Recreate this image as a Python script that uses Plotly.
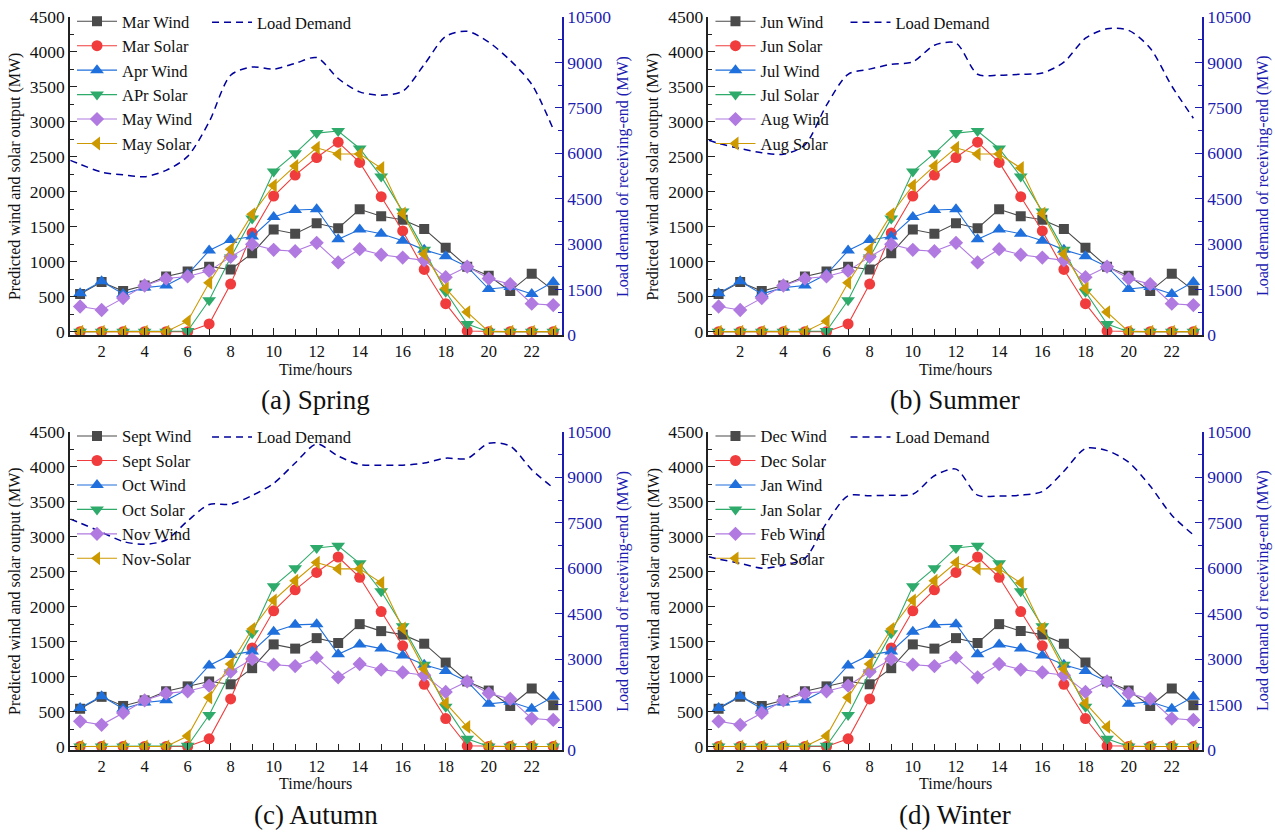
import plotly.graph_objects as go

# ---------------- data ----------------
hours = list(range(1, 24))

wind1 = [540, 710, 580, 660, 790, 860, 930, 890, 1120, 1460, 1400, 1550, 1480,
         1750, 1650, 1600, 1470, 1200, 930, 800, 580, 830, 590]
solar1 = [0, 0, 0, 0, 0, 0, 110, 680, 1410, 1940, 2240, 2490, 2710,
          2420, 1930, 1440, 890, 400, 10, 0, 0, 0, 0]
wind2 = [550, 720, 540, 630, 660, 820, 1160, 1310, 1360, 1640, 1740, 1750, 1320,
         1460, 1400, 1300, 1170, 1080, 930, 610, 640, 540, 710]
solar2 = [0, 0, 0, 0, 0, 10, 450, 1060, 1620, 2290, 2550, 2840, 2870,
          2620, 2220, 1720, 1170, 570, 110, 0, 0, 0, 0]
wind3 = [360, 310, 480, 660, 760, 790, 870, 1070, 1250, 1170, 1150, 1270, 990,
         1180, 1100, 1060, 1020, 780, 930, 760, 680, 400, 380]
solar3 = [0, 0, 0, 0, 0, 150, 700, 1180, 1680, 2090, 2370, 2630, 2540,
          2540, 2340, 1690, 1110, 620, 280, 0, 0, 0, 0]

load_hours = [0.55] + list(range(1, 24))
load_spring = [5770, 5640, 5380, 5290, 5230, 5440, 5900, 7040, 8580, 8850, 8780, 8970,
               9160, 8470, 8030, 7920, 8050, 8930, 9860, 10030, 9670, 9070, 8280, 6800]
load_summer = [6430, 6330, 6160, 6020, 5970, 6280, 7590, 8610, 8780, 8940, 9020, 9570,
               9640, 8610, 8580, 8610, 8650, 9010, 9800, 10110, 10060, 9470, 8220, 7160]
load_autumn = [7620, 7490, 7190, 6880, 6790, 6930, 7560, 8100, 8110, 8400, 8800, 9470,
               10100, 9700, 9420, 9400, 9400, 9470, 9630, 9620, 10120, 10030, 9250, 8650]
load_winter = [6380, 6300, 6160, 6000, 6100, 6330, 7490, 8390, 8390, 8410, 8440, 9050,
               9270, 8410, 8380, 8410, 8530, 9200, 9950, 9880, 9500, 8710, 7750, 7100]

panel_names = [
    ["Mar Wind", "Mar Solar", "Apr Wind", "APr Solar", "May Wind", "May Solar"],
    ["Jun Wind", "Jun Solar", "Jul Wind", "Jul Solar", "Aug Wind", "Aug Solar"],
    ["Sept Wind", "Sept Solar", "Oct Wind", "Oct Solar", "Nov Wind", "Nov-Solar"],
    ["Dec Wind", "Dec Solar", "Jan Wind", "Jan Solar", "Feb Wind", "Feb Solar"],
]
panel_titles = ["(a) Spring", "(b) Summer", "(c) Autumn", "(d) Winter"]
panel_loads = [load_spring, load_summer, load_autumn, load_winter]
series_values = [wind1, solar1, wind2, solar2, wind3, solar3]

# ---------------- styles ----------------
colors = ["#4a4a4a", "#f03c3c", "#1f6fdc", "#2eaa6a", "#b07ae0", "#cc9900"]
symbols = ["square", "circle", "triangle-up", "triangle-down", "diamond", "triangle-left"]
msizes = [10, 11, 12, 12, 11, 12]
LOAD_COLOR = "#00009c"
RAXIS_COLOR = "#1c1cb0"
FONT = "Liberation Serif"

W, H = 1275, 832
ML, MR, MT, MB = 70, 73.3, 16.7, 82
PW, PH = W - ML - MR, H - MT - MB


def fx(px):
    return (px - ML) / PW


def fy(py):
    return 1 - (py - MT) / PH


# plot-area pixel boxes: (left, right, top, bottom)
boxes = [(70, 561.7, 16.7, 335), (708.3, 1201.7, 16.7, 335),
         (70, 561.7, 431.7, 750), (708.3, 1201.7, 431.7, 750)]

fig = go.Figure()
layout = dict(
    width=W, height=H, margin=dict(l=ML, r=MR, t=MT, b=MB, autoexpand=False),
    paper_bgcolor="white", plot_bgcolor="rgba(0,0,0,0)",
    font=dict(family=FONT, size=16, color="#111"),
    showlegend=True, annotations=[],
)

for i in range(4):
    L, R, T, B = boxes[i]
    xd = [fx(L), fx(R)]
    yd = [fy(B), fy(T)]
    xa = "x" if i == 0 else f"x{i+1}"
    ya_l = "y" if i == 0 else f"y{2*i+1}"
    ya_r = f"y{2*i+2}"
    leg_s = "legend" if i == 0 else f"legend{2*i+1}"
    leg_l = f"legend{2*i+2}"

    layout["xaxis" if i == 0 else f"xaxis{i+1}"] = dict(
        domain=xd, anchor=ya_l, range=[0.53, 23.4], automargin=False,
        tickmode="linear", tick0=0, dtick=2,
        ticks="inside", ticklen=7, tickwidth=1.3, tickcolor="#222",
        minor=dict(dtick=1, tick0=0, ticks="inside", ticklen=6, tickcolor="#222", tickwidth=1.3),
        showline=True, linecolor="#222", linewidth=1.6,
        showgrid=False, zeroline=False,
        tickfont=dict(family=FONT, size=16.5, color="#111"),
    )
    layout["yaxis" if i == 0 else f"yaxis{2*i+1}"] = dict(
        domain=yd, anchor=xa, range=[-50, 4500], automargin=False,
        tickmode="linear", tick0=0, dtick=500, tickformat="d",
        ticks="inside", ticklen=7, tickwidth=1.3, tickcolor="#222",
        minor=dict(dtick=250, tick0=0, ticks="inside", ticklen=4, tickcolor="#222", tickwidth=1.3),
        showline=True, linecolor="#222", linewidth=1.6,
        showgrid=False, zeroline=False,
        tickfont=dict(family=FONT, size=17.5, color="#111"),
    )
    layout[f"yaxis{2*i+2}"] = dict(
        overlaying=ya_l, anchor=xa, side="right", range=[0, 10500], automargin=False,
        tickmode="linear", tick0=0, dtick=1500, tickformat="d",
        ticks="inside", ticklen=7, tickwidth=1.3, tickcolor=RAXIS_COLOR,
        minor=dict(dtick=750, tick0=0, ticks="inside", ticklen=4, tickcolor=RAXIS_COLOR, tickwidth=1.3),
        showline=True, linecolor=RAXIS_COLOR, linewidth=1.6,
        showgrid=False, zeroline=False,
        tickfont=dict(family=FONT, size=17.5, color=RAXIS_COLOR),
    )

    # load demand curve (right axis)
    fig.add_trace(go.Scatter(
        x=load_hours, y=panel_loads[i], mode="lines", name="Load Demand",
        line=dict(color=LOAD_COLOR, width=1.5, dash="7px,5px", shape="spline", smoothing=0.8),
        xaxis=xa, yaxis=ya_r, legend=leg_l,
    ))
    # wind / solar series (left axis)
    for k in range(6):
        fig.add_trace(go.Scatter(
            x=hours, y=series_values[k], mode="lines+markers", name=panel_names[i][k],
            line=dict(color=colors[k], width=1.1),
            marker=dict(symbol=symbols[k], size=msizes[k], color=colors[k], line=dict(width=0)),
            xaxis=xa, yaxis=ya_l, legend=leg_s,
        ))

    # legends
    layout[leg_s] = dict(
        x=fx(L + 2), y=fy(T - 13), xanchor="left", yanchor="top",
        bgcolor="rgba(0,0,0,0)", borderwidth=0, tracegroupgap=0,
        font=dict(family=FONT, size=16.5, color="#111"), itemwidth=40,
    )
    layout[leg_l] = dict(
        x=fx(L + 137), y=fy(T - 12), xanchor="left", yanchor="top",
        bgcolor="rgba(0,0,0,0)", borderwidth=0,
        font=dict(family=FONT, size=16.5, color="#111"), itemwidth=40,
    )

    # axis titles and panel caption
    cx = (L + R) / 2
    cy = (T + B) / 2
    common = dict(xref="paper", yref="paper", showarrow=False, xanchor="center", yanchor="middle")
    layout["annotations"] += [
        dict(text="Time/hours", x=fx(cx), y=fy(B + 34),
             font=dict(family=FONT, size=16, color="#111"), **common),
        dict(text=panel_titles[i], x=fx(cx), y=fy(B + 65),
             font=dict(family=FONT, size=27, color="#111"), **common),
        dict(text="Predicted wind and solar output (MW)", x=fx(L - 55), y=fy(cy), textangle=-90,
             font=dict(family=FONT, size=16, color="#111"), **common),
        dict(text="Load demand of receiving-end (MW)", x=fx(R + 61), y=fy(cy), textangle=-90,
             font=dict(family=FONT, size=16, color=RAXIS_COLOR), **common),
    ]

fig.update_layout(**layout)
fig.write_html("out.html")
